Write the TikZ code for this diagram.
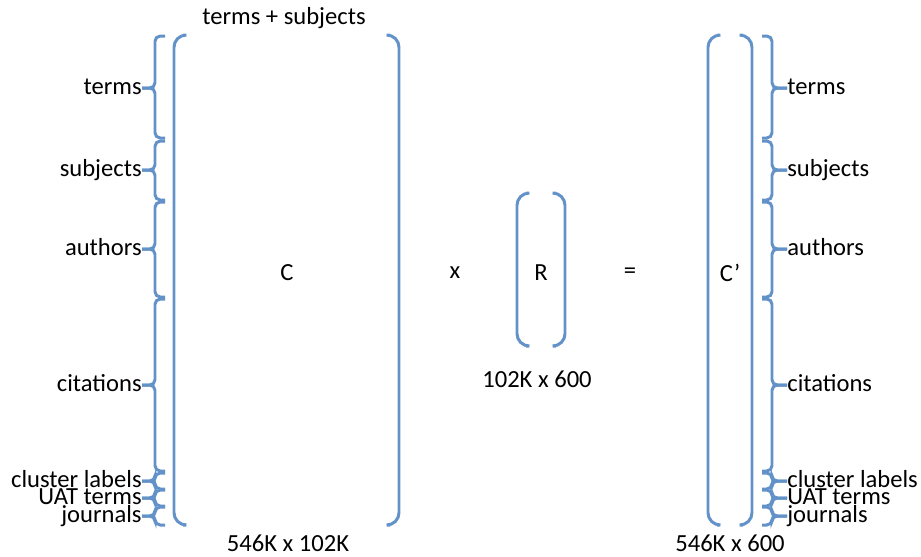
\documentclass[tikz,border=0pt]{standalone}
\usepackage{fontspec}
\setmainfont{Carlito}
\definecolor{bracketblue}{RGB}{98,146,200}
\begin{document}
\begin{tikzpicture}[x=0.02cm,y=-0.02cm,font=\fontsize{14}{16}\selectfont,
 bracket/.style={draw=bracketblue,line width=1.7pt,rounded corners=7pt},
 brace/.style={draw=bracketblue,line width=1.7pt,rounded corners=3pt},
 lab/.style={inner sep=0pt}]
\useasboundingbox (0,0) rectangle (921,556);
% matrix brackets
\draw[bracket] (183,35) -- (174,35) -- (174,525) -- (183,525);
\draw[bracket] (390,35) -- (399,35) -- (399,525) -- (390,525);
\draw[bracket] (526,193) -- (517,193) -- (517,346) -- (526,346);
\draw[bracket] (556,193) -- (565,193) -- (565,346) -- (556,346);
\draw[bracket] (717,35) -- (708,35) -- (708,525) -- (717,525);
\draw[bracket] (743,35) -- (752,35) -- (752,525) -- (743,525);
\node (colhead) at (284,18) {terms + subjects};
\node (cmat) at (287,273) {C};
\node (times) at (455,273) {x};
\node (rmat) at (541,273) {R};
\node (equals) at (630,273) {=};
\node (cprime) at (730,273) {C’};
\node (rsize) at (537,379) {102K x 600};
\node (csize) at (288,543) {546K x 102K};
\node (cpsize) at (730,543) {546K x 600};
% row blocks, left and right
\foreach \ya/\yt/\yb/\nm/\txt in {36/88/138/terms/terms,141/170/200/subj/subjects,
  202/249/297/auth/authors,299/385/471/cit/citations,473/481/489/clus/cluster labels,
  490/498/506/uat/UAT terms,507/516/525/jour/journals}{
  \node[lab,anchor=base east] (l\nm) at (142,\yt+6) {\txt};
  \draw[brace] (165,\ya) -- (155,\ya) -- (155,\yt) -- (l\nm.east |- 0,\yt);
  \draw[brace] (l\nm.east |- 0,\yt) -- (155,\yt) -- (155,\yb) -- (165,\yb);
  \node[lab,anchor=base west] (r\nm) at (787,\yt+6) {\txt};
  \draw[brace] (762,\ya) -- (772,\ya) -- (772,\yt) -- (r\nm.west |- 0,\yt);
  \draw[brace] (r\nm.west |- 0,\yt) -- (772,\yt) -- (772,\yb) -- (762,\yb);
}
\end{tikzpicture}
\end{document}
